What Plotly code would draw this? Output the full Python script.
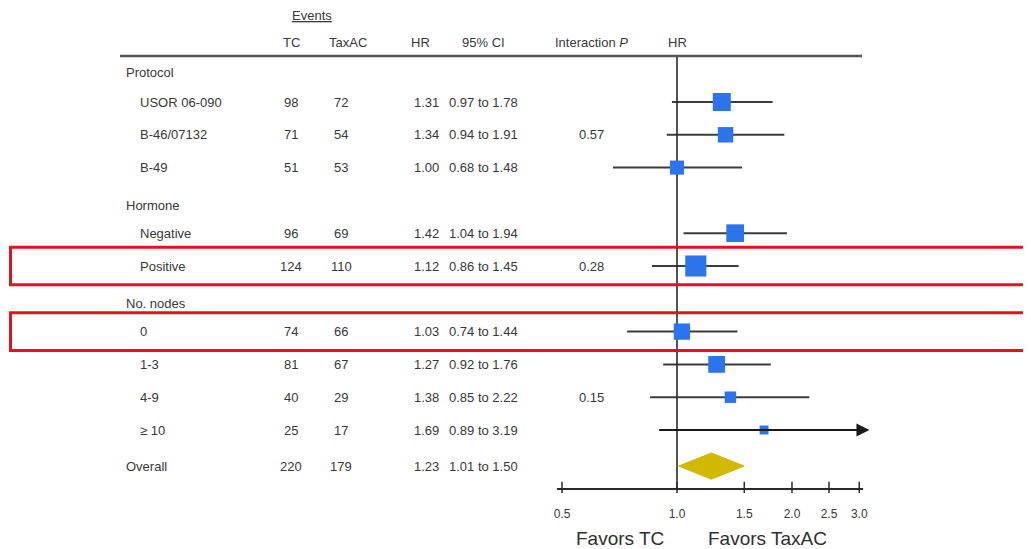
import math
import plotly.graph_objects as go

# ---------------- data ----------------
labels = ["Protocol", "USOR 06-090", "B-46/07132", "B-49", "Hormone", "Negative", "Positive",
          "No. nodes", "0", "1-3", "4-9", "\u2265 10", "Overall"]
kinds = ["group", "item", "item", "item", "group", "item", "item",
         "group", "item", "item", "item", "item", "overall"]
events_tc = [None, 98, 71, 51, None, 96, 124, None, 74, 81, 40, 25, 220]
events_taxac = [None, 72, 54, 53, None, 69, 110, None, 66, 67, 29, 17, 179]
hr = [None, 1.31, 1.34, 1.00, None, 1.42, 1.12, None, 1.03, 1.27, 1.38, 1.69, 1.23]
ci_lo = [None, 0.97, 0.94, 0.68, None, 1.04, 0.86, None, 0.74, 0.92, 0.85, 0.89, 1.01]
ci_hi = [None, 1.78, 1.91, 1.48, None, 1.94, 1.45, None, 1.44, 1.76, 2.22, 3.19, 1.50]
interaction_p = [None, None, "0.57", None, None, None, "0.28", None, None, None, "0.15", None, None]
highlighted = ["Positive", "0"]
tick_vals = [0.5, 1.0, 1.5, 2.0, 2.5, 3.0]
tick_text = ["0.5", "1.0", "1.5", "2.0", "2.5", "3.0"]
axis_max = 3.0  # upper limit of drawn axis

# ---------------- layout helpers ----------------
WIN_W, WIN_H = 1031, 549
OFF = 8                           # page body margin
W, H = WIN_W - OFF, WIN_H - OFF  # figure size
ROW0, ROWH = 69.2, 32.8          # window pixel of row 0, pixels per row
X1, DEC = 677.0, 382.0           # window pixel of HR=1, pixels per decade


def row_y(i):
    off = {"group": 0.15 if i > 0 else 0.1, "item": 0.0, "overall": 0.1}[kinds[i]]
    return i + off


def pix_to_row(p):
    return (p - ROW0) / ROWH


def px(p):
    return (p - OFF) / W


def py(p):
    return 1 - (p - OFF) / H


TXT = "#383838"
FONT = "Liberation Sans, Arial, Helvetica, sans-serif"
BLUE = "#2C74EC"
GOLD = "#D3B800"
LINE = "#3c3c3c"
DARK = "#2a2a2a"

fig = go.Figure()
annotations = []
shapes = []

yvals = [row_y(i) for i in range(len(labels))]

# CI lines (arrow when exceeding axis)
for i in range(len(labels)):
    if hr[i] is None or kinds[i] == "overall":
        continue
    if ci_hi[i] > axis_max:
        annotations.append(dict(x=math.log10(ci_hi[i]), y=yvals[i], ax=math.log10(ci_lo[i]), ay=yvals[i],
                                xref="x", yref="y", axref="x", ayref="y", showarrow=True,
                                arrowhead=2, arrowsize=1.3, arrowwidth=2, arrowcolor="#1a1a1a",
                                text="", standoff=0, startstandoff=0))
    else:
        fig.add_trace(go.Scatter(x=[ci_lo[i], ci_hi[i]], y=[yvals[i], yvals[i]], mode="lines",
                                 line=dict(color=LINE, width=2), hoverinfo="skip", showlegend=False))

# vertical reference line at HR = 1
y_top = pix_to_row(56)
y_axis = pix_to_row(489)
fig.add_trace(go.Scatter(x=[1, 1], y=[y_top, y_axis], mode="lines",
                         line=dict(color=DARK, width=1.6), hoverinfo="skip", showlegend=False))

# squares
sq_x, sq_y, sq_s = [], [], []
for i in range(len(labels)):
    if hr[i] is None or kinds[i] == "overall":
        continue
    sq_x.append(hr[i])
    sq_y.append(yvals[i])
    sq_s.append(1.38 * math.sqrt(events_tc[i] + events_taxac[i]))
fig.add_trace(go.Scatter(x=sq_x, y=sq_y, mode="markers",
                         marker=dict(symbol="square", size=sq_s, color=BLUE, opacity=1,
                                     line=dict(width=0)),
                         showlegend=False, cliponaxis=False))

# overall diamond
io = kinds.index("overall")
hd = 0.4
fig.add_trace(go.Scatter(x=[ci_lo[io], hr[io], ci_hi[io], hr[io], ci_lo[io]],
                         y=[yvals[io], yvals[io] - hd, yvals[io], yvals[io] + hd, yvals[io]],
                         mode="lines", fill="toself", fillcolor=GOLD, line=dict(color=GOLD, width=1),
                         hoverinfo="skip", showlegend=False))

# x axis line and crossing ticks
fig.add_trace(go.Scatter(x=[0.485, 3.07], y=[y_axis, y_axis], mode="lines",
                         line=dict(color=DARK, width=1.8), hoverinfo="skip", showlegend=False))
fig.add_trace(go.Scatter(x=tick_vals, y=[y_axis - 0.05] * len(tick_vals), mode="markers",
                         marker=dict(symbol="line-ns-open", size=8, color=DARK,
                                     line=dict(color=DARK, width=1.5)),
                         hoverinfo="skip", showlegend=False))

# ---------------- table text ----------------
def txt(x, y, s, anchor="center", size=13, color=TXT):
    annotations.append(dict(x=px(x), y=y, xref="paper", yref="y", text=s, showarrow=False,
                            xanchor=anchor, yanchor="middle", font=dict(family=FONT, size=size, color=color)))


hy = pix_to_row(42)
txt(312, pix_to_row(15), "<u>Events</u>")
txt(291, hy, "TC")
txt(348, hy, "TaxAC")
txt(420, hy, "HR")
txt(483, hy, "95% CI")
txt(591, hy, "Interaction <i>P</i>")
txt(677, hy, "HR")

for i, lab in enumerate(labels):
    y = yvals[i]
    if kinds[i] == "item":
        txt(138, y, lab, anchor="left")
    else:
        txt(124, y, lab, anchor="left")
    if events_tc[i] is not None:
        txt(291, y, str(events_tc[i]))
        txt(341, y, str(events_taxac[i]))
        txt(441, y, f"{hr[i]:.2f}", anchor="right")
        txt(447, y, f"{ci_lo[i]:.2f} to {ci_hi[i]:.2f}", anchor="left")
    if interaction_p[i] is not None:
        txt(591, y, interaction_p[i])

# header rule
shapes.append(dict(type="line", xref="paper", yref="y", x0=px(120), x1=px(862), y0=y_top, y1=y_top,
                   line=dict(color="#555555", width=2.5)))

# highlight boxes
for lab in highlighted:
    i = labels.index(lab)
    shapes.append(dict(type="rect", xref="paper", yref="y", x0=px(10.5), x1=1.02,
                       y0=yvals[i] - 0.575, y1=yvals[i] + 0.575,
                       line=dict(color="#E0141E", width=3), fillcolor="rgba(0,0,0,0)"))

# favors labels
for xc, s in [(620, "Favors TC"), (767, "Favors TaxAC")]:
    annotations.append(dict(x=px(xc), y=py(538), xref="paper", yref="paper", text=s,
                            showarrow=False, xanchor="center", yanchor="middle",
                            font=dict(family=FONT, size=19, color="#2f2f2f")))

fig.update_layout(
    width=W, height=H, margin=dict(l=0, r=0, t=0, b=0),
    paper_bgcolor="white", plot_bgcolor="white",
    annotations=annotations, shapes=shapes, showlegend=False,
    xaxis=dict(type="log", range=[(OFF - X1) / DEC, (WIN_W - X1) / DEC], domain=[0, 1],
               anchor="free", position=py(489),
               tickvals=tick_vals, ticktext=tick_text, ticks="", showline=False,
               showgrid=False, zeroline=False, ticklabelstandoff=16,
               tickfont=dict(family=FONT, size=12, color=TXT), fixedrange=True),
    yaxis=dict(range=[pix_to_row(WIN_H), pix_to_row(OFF)], visible=False, showgrid=False,
               zeroline=False, fixedrange=True),
)

fig.write_html("out.html")
